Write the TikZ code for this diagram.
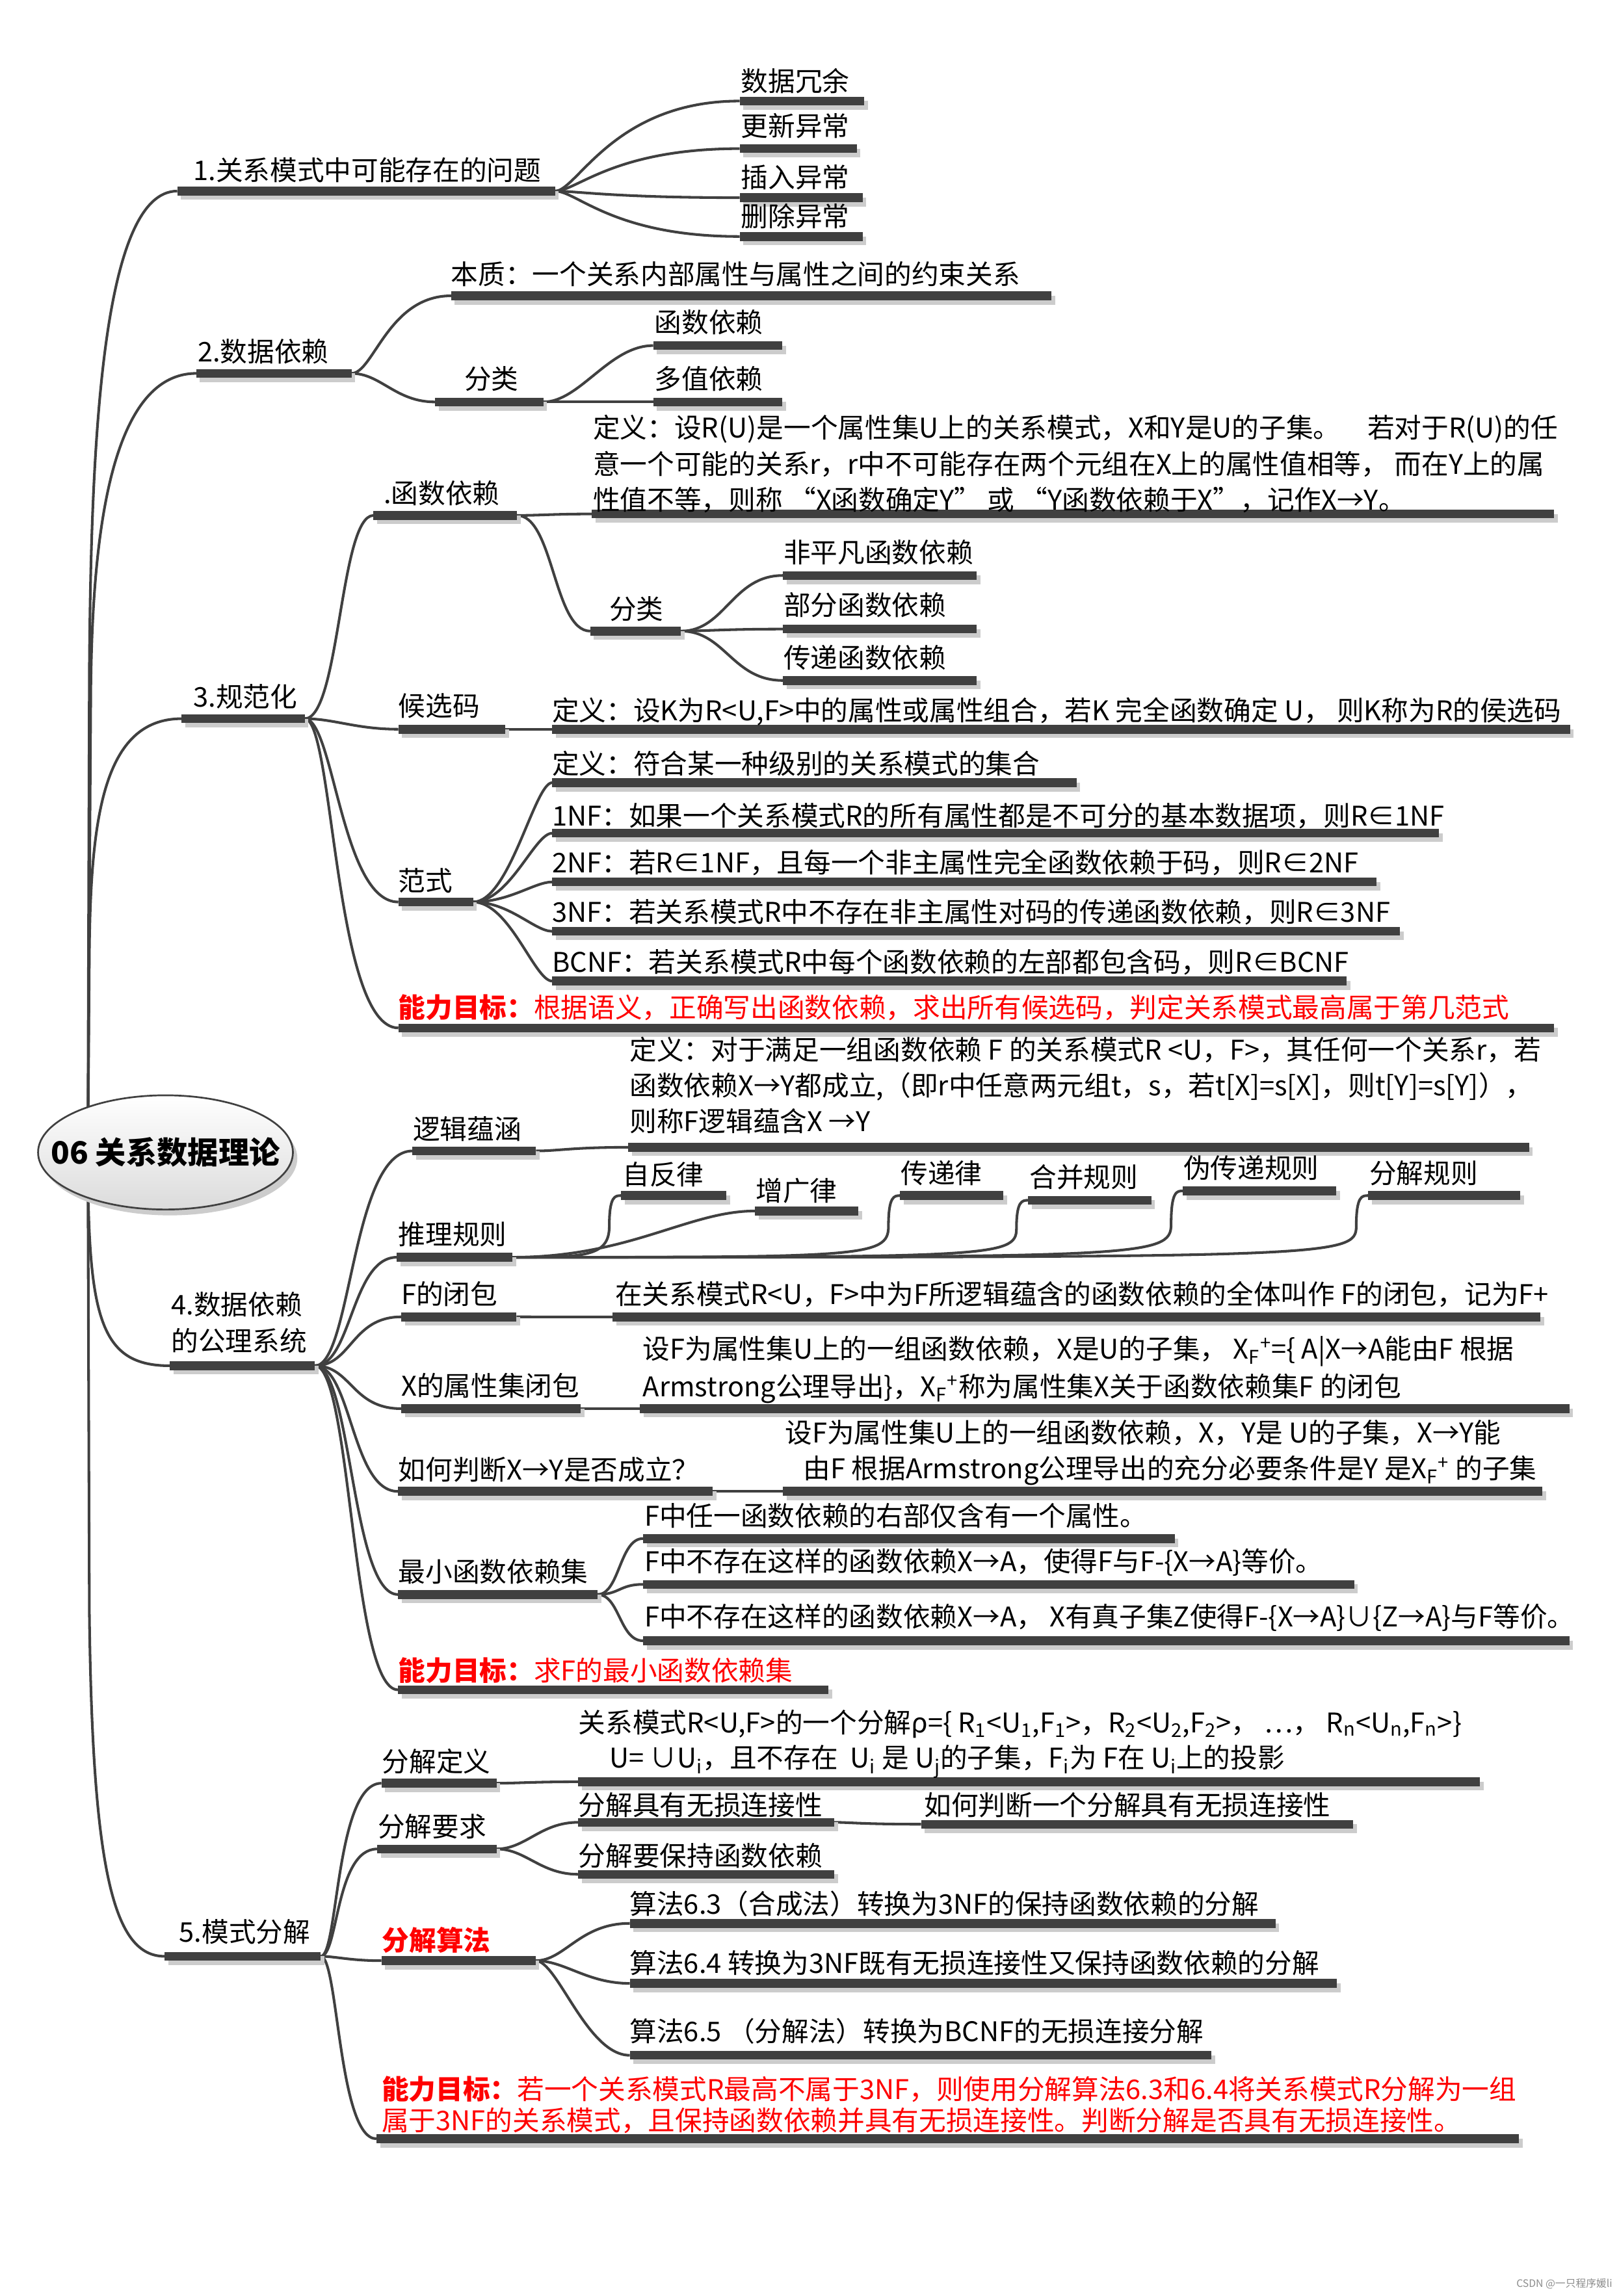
\documentclass[tikz,border=0pt]{standalone}
\usepackage{fontspec}
\setmainfont{Noto Sans CJK SC}
\usetikzlibrary{calc,shadows,shapes.geometric}
\definecolor{barc}{RGB}{64,64,64}
\definecolor{tred}{RGB}{255,0,0}
\newcommand\fs{\fontsize{18.5}{24.5}\selectfont}
\newcommand\XFp{X\textsubscript{F}\textsuperscript{+}}
\newcommand\lnk[4]{\draw[conn] (#1.east) .. controls +(#3,0) and ($(#1.east |- #2.west)+(#4,0)$) .. (#2.west);}
\newcommand\slnk[2]{\draw[conn] (#1.east) -- (#2.west);}
\newcommand\clnk[2]{\draw[conn] let \p1=(#1.east), \p2=(#2.west) in (\p1) .. controls (\x2-26pt,\y1) and (\x2-8pt,\y1) .. (\x2-8pt,{0.5*(\y1+\y2)}) .. controls (\x2-8pt,\y2) and (\x2-4pt,\y2) .. (\p2);}
\pgfdeclarelayer{back}
\pgfdeclarelayer{lines}
\pgfsetlayers{back,lines,main}
\tikzset{
  conn/.style={draw=barc, line width=1.8pt},
  bar/.style={rectangle, fill=barc, minimum height=6pt, inner sep=0pt, outer sep=0pt, anchor=west,
    drop shadow={shadow xshift=2.5pt, shadow yshift=-3pt, fill=black!20, opacity=1}},
  txt/.style={anchor=west, inner sep=0pt, outer sep=0pt, font=\fs, text=black, align=left},
  mtxt/.style={txt, anchor=north west},
  rtxt/.style={txt, text=tred, font=\fontsize{18.5}{21.5}\selectfont},
}
\begin{document}
\begin{tikzpicture}[x=1pt, y=-1pt]
\useasboundingbox (0,0) rectangle (1105,1568);
\begin{pgfonlayer}{back}
\fill[white] (0,0) rectangle (1105,1568);
\end{pgfonlayer}

% ---------- root ----------
\coordinate (hub) at (60,787);
\node[ellipse, draw=barc, line width=1.2pt, minimum width=174pt, minimum height=78pt, inner sep=0pt,
  top color=white, bottom color=black!14,
  drop shadow={shadow xshift=3pt, shadow yshift=-4pt, fill=black!20, opacity=1}] (root) at (113,787) {};
\node[inner sep=0pt, font=\bfseries\fontsize{21}{24}\selectfont] (roott) at (root.center) {06 关系数据理论};

% ---------- 1 ----------
\node[bar, minimum width=258pt] (b1) at (121,130.5) {};
\node[txt] (b1t) at (132,116) {1.关系模式中可能存在的问题};
\node[bar, minimum width=85pt] (d1) at (505,69) {};
\node[txt] (d1t) at (506,55.5) {数据冗余};
\node[bar, minimum width=80pt] (d2) at (505,101.5) {};
\node[txt] (d2t) at (506,86) {更新异常};
\node[bar, minimum width=84pt] (d3) at (505,135) {};
\node[txt] (d3t) at (506,121) {插入异常};
\node[bar, minimum width=84pt] (d4) at (505,161.5) {};
\node[txt] (d4t) at (506,147.7) {删除异常};

% ---------- 2 ----------
\node[bar, minimum width=106pt] (b2) at (134,255) {};
\node[txt] (b2t) at (135,240) {2.数据依赖};
\node[bar, minimum width=410pt] (bz) at (308,202) {};
\node[txt] (bzt) at (308,187.3) {本质：一个关系内部属性与属性之间的约束关系};
\node[bar, minimum width=74pt] (fl) at (297,274.5) {};
\node[txt] (flt) at (317,258.6) {分类};
\node[bar, minimum width=88pt] (hs) at (446,236) {};
\node[txt] (hst) at (447,220) {函数依赖};
\node[bar, minimum width=88pt] (dz) at (446,274.5) {};
\node[txt] (dzt) at (447,258.6) {多值依赖};

% ---------- 3 ----------
\node[bar, minimum width=84pt] (b3) at (124,490.8) {};
\node[txt] (b3t) at (132,475.8) {3.规范化};
\node[bar, minimum width=98pt] (fd) at (255,352) {};
\node[txt] (fdt) at (262,336.6) {.函数依赖};
\node[bar, minimum width=657pt] (fdd) at (404,351) {};
\node[mtxt] (fddt) at (405,283.5) {定义：设R(U)是一个属性集U上的关系模式，X和Y是U的子集。\quad 若对于R(U)的任\\意一个可能的关系r，r中不可能存在两个元组在X上的属性值相等， 而在Y上的属\\性值不等，则称 “X函数确定Y” 或 “Y函数依赖于X”，记作X→Y。};
\node[bar, minimum width=62pt] (fl2) at (403,431) {};
\node[txt] (fl2t) at (416,416) {分类};
\node[bar, minimum width=132.5pt] (f1) at (534.5,393) {};
\node[txt] (f1t) at (535,377) {非平凡函数依赖};
\node[bar, minimum width=132.5pt] (f2) at (534.5,429.6) {};
\node[txt] (f2t) at (535,413) {部分函数依赖};
\node[bar, minimum width=132.5pt] (f3) at (534.5,464.7) {};
\node[txt] (f3t) at (535,449) {传递函数依赖};
\node[bar, minimum width=73pt] (hx) at (272,498) {};
\node[txt] (hxt) at (272,482) {候选码};
\node[bar, minimum width=695pt] (hxd) at (377,498) {};
\node[txt] (hxdt) at (377,486) {定义：设K为R<U,F>中的属性或属性组合，若K 完全函数确定 U， 则K称为R的侯选码};
\node[bar, minimum width=51pt] (fsh) at (272,616) {};
\node[txt] (fsht) at (272,601.5) {范式};
\node[bar, minimum width=358pt] (n0) at (377,534.5) {};
\node[txt] (n0t) at (377,521.6) {定义：符合某一种级别的关系模式的集合};
\node[bar, minimum width=605.5pt] (n1) at (377,569) {};
\node[txt] (n1t) at (377,557) {1NF：如果一个关系模式R的所有属性都是不可分的基本数据项，则R∈1NF};
\node[bar, minimum width=563pt] (n2) at (377,602.3) {};
\node[txt] (n2t) at (377,589) {2NF：若R∈1NF，且每一个非主属性完全函数依赖于码，则R∈2NF};
\node[bar, minimum width=579pt] (n3) at (377,636) {};
\node[txt] (n3t) at (377,623) {3NF：若关系模式R中不存在非主属性对码的传递函数依赖，则R∈3NF};
\node[bar, minimum width=542.5pt] (n4) at (377,670) {};
\node[txt] (n4t) at (377,657) {BCNF：若关系模式R中每个函数依赖的左部都包含码，则R∈BCNF};
\node[bar, minimum width=789pt] (g3) at (272,702) {};
\node[rtxt] (g3t) at (272,688) {\textbf{能力目标：}根据语义，正确写出函数依赖，求出所有候选码，判定关系模式最高属于第几范式};

% ---------- 4 ----------
\node[bar, minimum width=99pt] (b4) at (116,932.7) {};
\node[mtxt] (b4t) at (117,882.5) {4.数据依赖\\的公理系统};
\node[bar, minimum width=84.4pt] (lj) at (281.6,786) {};
\node[txt] (ljt) at (282,771) {逻辑蕴涵};
\node[bar, minimum width=615pt] (ljd) at (429,783.5) {};
\node[mtxt] (ljdt) at (430,708) {定义：对于满足一组函数依赖 F 的关系模式R <U，F>，其任何一个关系r，若\\函数依赖X→Y都成立,（即r中任意两元组t，s，若t[X]=s[X]，则t[Y]=s[Y]），\\则称F逻辑蕴含X →Y};
\node[bar, minimum width=79pt] (tl) at (271,858.6) {};
\node[txt] (tlt) at (272,842.8) {推理规则};
\node[bar, minimum width=72pt] (r1) at (424,816.5) {};
\node[txt] (r1t) at (425,802) {自反律};
\node[bar, minimum width=70.5pt] (r2) at (515.5,827) {};
\node[txt] (r2t) at (516,813) {增广律};
\node[bar, minimum width=70.4pt] (r3) at (614.6,816.5) {};
\node[txt] (r3t) at (615,801) {传递律};
\node[bar, minimum width=84pt] (r4) at (702,819.7) {};
\node[txt] (r4t) at (703,804) {合并规则};
\node[bar, minimum width=104.9pt] (r5) at (807.6,813.3) {};
\node[txt] (r5t) at (808,797.7) {伪传递规则};
\node[bar, minimum width=104pt] (r6) at (934,816.5) {};
\node[txt] (r6t) at (935,801) {分解规则};
\node[bar, minimum width=78.6pt] (fb) at (274,899.3) {};
\node[txt] (fbt) at (274,883.5) {F的闭包};
\node[bar, minimum width=633.4pt] (fbd) at (418.4,899.4) {};
\node[txt] (fbdt) at (420,884) {在关系模式R<U，F>中为F所逻辑蕴含的函数依赖的全体叫作 F的闭包，记为F+};
\node[bar, minimum width=122.5pt] (xb) at (274,962) {};
\node[txt] (xbt) at (274,946.4) {X的属性集闭包};
\node[bar, minimum width=634.6pt] (xbd) at (437,962) {};
\node[mtxt, font=\fontsize{18.5}{25.8}\selectfont] (xbdt) at (439,912.4) {设F为属性集U上的一组函数依赖，X是U的子集， \XFp=\{ A|X→A能由F 根据\\Armstrong公理导出\}，\XFp 称为属性集X关于函数依赖集F 的闭包};
\node[bar, minimum width=215pt] (pd) at (271.7,1018.5) {};
\node[txt] (pdt) at (272,1003.4) {如何判断X→Y是否成立？};
\node[bar, minimum width=518.4pt] (pdd) at (534.6,1018.5) {};
\node[mtxt] (pddt) at (536,969.5) {设F为属性集U上的一组函数依赖，X，Y是 U的子集，X→Y能\\\hspace*{12.7pt}由F 根据Armstrong公理导出的充分必要条件是Y 是\XFp{} 的子集};
\node[bar, minimum width=136.3pt] (zx) at (271.7,1088.9) {};
\node[txt] (zxt) at (272,1073.5) {最小函数依赖集};
\node[bar, minimum width=363pt] (m1) at (439,1050.7) {};
\node[txt] (m1t) at (440,1035) {F中任一函数依赖的右部仅含有一个属性。};
\node[bar, minimum width=485.5pt] (m2) at (439,1082) {};
\node[txt] (m2t) at (440,1067) {F中不存在这样的函数依赖X→A，使得F与F-\{X→A\}等价。};
\node[bar, minimum width=632.6pt] (m3) at (439,1120.5) {};
\node[txt] (m3t) at (440,1104.6) {F中不存在这样的函数依赖X→A， X有真子集Z使得F-\{X→A\}∪\{Z→A\}与F等价。};
\node[bar, minimum width=293.9pt] (g4) at (271.7,1154) {};
\node[rtxt] (g4t) at (272,1141) {\textbf{能力目标：}求F的最小函数依赖集};

% ---------- 5 ----------
\node[bar, minimum width=106.6pt] (b5) at (112.4,1336) {};
\node[txt] (b5t) at (122.4,1319.3) {5.模式分解};
\node[bar, minimum width=78.6pt] (jd) at (260.4,1217.8) {};
\node[txt] (jdt) at (261,1203) {分解定义};
\node[bar, minimum width=615.7pt] (jdd) at (394.7,1216.8) {};
\node[mtxt, font=\fontsize{18.5}{24}\selectfont] (jddt) at (395,1167.5) {关系模式R<U,F>的一个分解ρ=\{ R\textsubscript{1}<U\textsubscript{1},F\textsubscript{1}>，R\textsubscript{2}<U\textsubscript{2},F\textsubscript{2}>， …， R\textsubscript{n}<U\textsubscript{n},F\textsubscript{n}>\}\\\hspace*{21pt}U= ∪U\textsubscript{i}，且不存在 \ U\textsubscript{i} 是 U\textsubscript{j}的子集，F\textsubscript{i}为 F在 U\textsubscript{i}上的投影};
\node[bar, minimum width=81.5pt] (jy) at (257.5,1262.7) {};
\node[txt] (jyt) at (258,1247.5) {分解要求};
\node[bar, minimum width=174.9pt] (ws) at (394.7,1244.5) {};
\node[txt] (wst) at (395,1232.5) {分解具有无损连接性};
\node[bar, minimum width=295.1pt] (wsp) at (628.9,1245.8) {};
\node[txt] (wspt) at (631,1232.5) {如何判断一个分解具有无损连接性};
\node[bar, minimum width=174.9pt] (bc) at (394.7,1280) {};
\node[txt] (bct) at (395,1267.3) {分解要保持函数依赖};
\node[bar, minimum width=105.3pt] (sf) at (260.4,1339) {};
\node[rtxt, font=\bfseries\fontsize{18.5}{21}\selectfont] (sft) at (261,1325) {分解算法};
\node[bar, minimum width=440.8pt] (a3) at (430,1313.5) {};
\node[txt] (a3t) at (430,1300) {算法6.3（合成法）转换为3NF的保持函数依赖的分解};
\node[bar, minimum width=482.8pt] (a4) at (430,1354.5) {};
\node[txt] (a4t) at (430,1340.6) {算法6.4 转换为3NF既有无损连接性又保持函数依赖的分解};
\node[bar, minimum width=397pt] (a5) at (430,1403.6) {};
\node[txt] (a5t) at (430,1387.2) {算法6.5 （分解法）转换为BCNF的无损连接分解};
\node[bar, minimum width=780pt] (g5) at (257,1460.6) {};
\node[rtxt, anchor=north west] (g5t) at (260.7,1417.8) {\textbf{能力目标：}若一个关系模式R最高不属于3NF，则使用分解算法6.3和6.4将关系模式R分解为一组\\属于3NF的关系模式，且保持函数依赖并具有无损连接性。判断分解是否具有无损连接性。};

\node[anchor=east, inner sep=0pt, text=black!45, font=\fontsize{7}{8}\selectfont] (wm) at (1101,1559.6) {CSDN @一只程序媛li};

% ---------- connectors ----------
\begin{pgfonlayer}{lines}
\draw[conn] (hub) -- (61,460) .. controls (62,300) and (70,130.5) .. (b1.west);
\draw[conn] (hub) -- (62,470) .. controls (63,380) and (72,255) .. (b2.west);
\draw[conn] (hub) -- (61,650) .. controls (62,560) and (70,490.8) .. (b3.west);
\draw[conn] (hub) .. controls (60,900) and (68,932.7) .. (b4.west);
\draw[conn] (hub) -- (61,1100) .. controls (63,1280) and (78,1336) .. (b5.west);

\lnk{b1}{d1}{15}{40}
\lnk{b1}{d2}{15}{40}
\lnk{b1}{d3}{15}{40}
\lnk{b1}{d4}{15}{40}

\lnk{b2}{bz}{15}{25}
\lnk{b2}{fl}{20}{30}
\lnk{fl}{hs}{25}{45}
\slnk{fl}{dz}

\lnk{b3}{fd}{24}{24}
\lnk{b3}{hx}{20}{35}
\lnk{b3}{fsh}{20}{25}
\lnk{b3}{g3}{20}{20}
\lnk{fd}{fdd}{15}{25}
\lnk{fd}{fl2}{25}{25}
\lnk{fl2}{f1}{30}{35}
\lnk{fl2}{f2}{15}{30}
\lnk{fl2}{f3}{30}{35}
\slnk{hx}{hxd}
\lnk{fsh}{n0}{25}{42}
\lnk{fsh}{n1}{25}{42}
\lnk{fsh}{n2}{25}{42}
\lnk{fsh}{n3}{25}{42}
\lnk{fsh}{n4}{25}{42}

\lnk{b4}{lj}{25}{25}
\lnk{b4}{tl}{25}{25}
\lnk{b4}{fb}{25}{25}
\lnk{b4}{xb}{25}{25}
\lnk{b4}{pd}{25}{25}
\lnk{b4}{zx}{25}{25}
\lnk{b4}{g4}{25}{25}
\lnk{lj}{ljd}{15}{25}
\clnk{tl}{r1}
\lnk{tl}{r2}{80}{120}
\clnk{tl}{r3}
\clnk{tl}{r4}
\clnk{tl}{r5}
\clnk{tl}{r6}
\slnk{fb}{fbd}
\slnk{xb}{xbd}
\slnk{pd}{pdd}
\lnk{zx}{m1}{15}{15}
\lnk{zx}{m2}{15}{15}
\lnk{zx}{m3}{15}{15}

\lnk{b5}{jd}{12}{10}
\lnk{b5}{jy}{12}{10}
\lnk{b5}{sf}{10}{20}
\lnk{b5}{g5}{12}{12}
\lnk{jd}{jdd}{15}{25}
\lnk{jy}{ws}{20}{30}
\lnk{jy}{bc}{20}{30}
\lnk{ws}{wsp}{10}{20}
\lnk{sf}{a3}{20}{30}
\lnk{sf}{a4}{20}{35}
\lnk{sf}{a5}{15}{35}
\end{pgfonlayer}
\end{tikzpicture}
\end{document}
